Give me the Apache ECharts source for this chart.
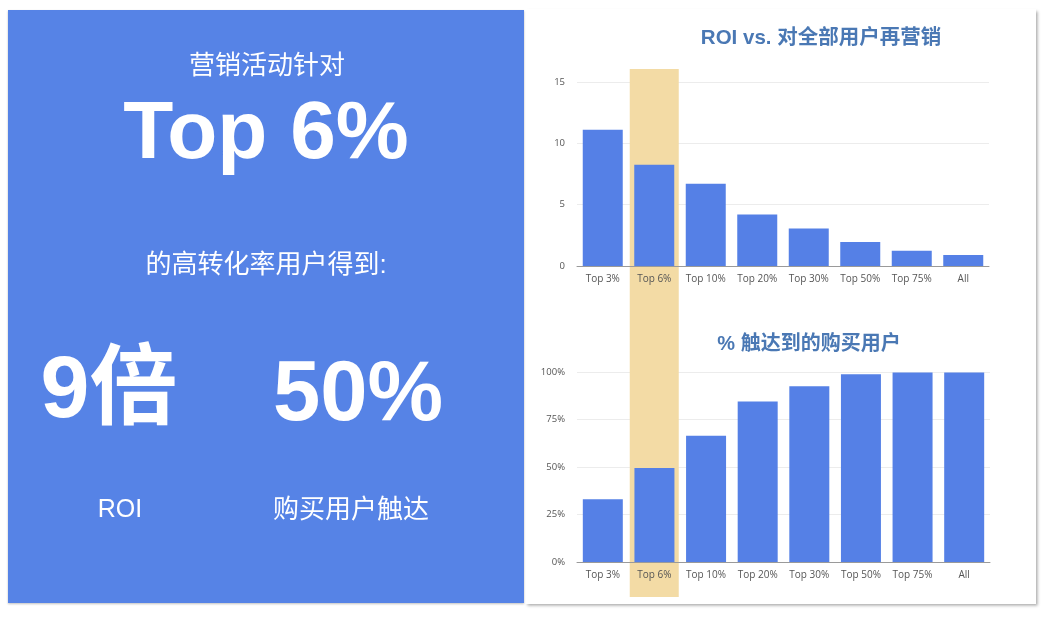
<!DOCTYPE html>
<html>
<head>
<meta charset="utf-8">
<script src="https://cdn.jsdelivr.net/npm/echarts@6/dist/echarts.min.js"></script>
<style>
html,body{margin:0;padding:0;background:#fff;}
#c{width:1052px;height:622px;}
</style>
</head>
<body>
<div id="c"></div>
<script>
// ---- data ----
const categories = ['Top 3%', 'Top 6%', 'Top 10%', 'Top 20%', 'Top 30%', 'Top 50%', 'Top 75%', 'All'];
const roiValues = [11.1, 8.25, 6.7, 4.2, 3.05, 1.95, 1.25, 0.9];
const reachValues = [33, 49.5, 66.5, 84.5, 92.5, 98.8, 99.8, 99.8];
const highlightValues = [0, 1, 0, 0, 0, 0, 0, 0];
const roiTitle = 'ROI vs. 对全部用户再营销';
const reachTitle = '% 触达到的购买用户';
const roiTicks = {min: 0, max: 15, interval: 5};
const reachTicks = {min: 0, max: 100, interval: 25};

const BAR = '#5580E6';
const PANEL = '#5683E6';
const BAND = '#F3DBA5';
const TITLE = '#4A78B4';
const CJK = '"Liberation Sans", "Noto Sans CJK SC", sans-serif';
const AXFONT = '"Open Sans", "Noto Sans CJK SC", sans-serif';

const chart = echarts.init(document.getElementById('c'), null, {renderer: 'canvas'});

function catAxis(gi, show) {
  return {
    type: 'category', gridIndex: gi, data: categories, show: show, z: 2,
    axisTick: {show: false},
    axisLine: {show: true, lineStyle: {color: '#9a9a9a', width: 1}},
    axisLabel: {color: '#555', fontSize: 10, fontFamily: AXFONT, margin: 8, interval: 0}
  };
}
function valAxis(gi, t, fmt) {
  return {
    type: 'value', gridIndex: gi, min: t.min, max: t.max, interval: t.interval,
    axisLine: {show: false}, axisTick: {show: false},
    splitLine: {lineStyle: {color: '#ececec', width: 1}},
    axisLabel: {color: '#555', fontSize: 9.5, fontFamily: AXFONT, margin: 12, formatter: fmt}
  };
}

const txt = (text, x, y, size, weight) => ({
  type: 'text', x: x, y: y, z: 5,
  style: {text: text, fill: '#fff', font: (weight || 'normal') + ' ' + size + 'px ' + CJK,
          textAlign: 'center', textVerticalAlign: 'middle'}
});

chart.setOption({
  backgroundColor: '#fff',
  animation: false,
  grid: [
    {left: 577, top: 82, width: 412, height: 184},
    {left: 577, top: 372, width: 413, height: 190},
    {left: 577, top: 69, width: 412, height: 528}
  ],
  xAxis: [
    catAxis(0, true),
    catAxis(1, true),
    catAxis(2, false)
  ],
  yAxis: [
    valAxis(0, roiTicks, '{value}'),
    valAxis(1, reachTicks, '{value}%'),
    {type: 'value', gridIndex: 2, min: 0, max: 1, show: false, splitLine: {show: false}}
  ],
  series: [
    {type: 'bar', xAxisIndex: 2, yAxisIndex: 2, data: highlightValues, barWidth: 49,
     itemStyle: {color: BAND}, z: 1, silent: true},
    {type: 'bar', xAxisIndex: 0, yAxisIndex: 0, data: roiValues, barWidth: 40,
     itemStyle: {color: BAR}, z: 3},
    {type: 'bar', xAxisIndex: 1, yAxisIndex: 1, data: reachValues, barWidth: 40,
     itemStyle: {color: BAR}, z: 3}
  ],
  graphic: [
    {type: 'rect', z: -10, shape: {x: 525, y: 9, width: 511, height: 595},
     style: {fill: '#fff', shadowBlur: 3, shadowColor: 'rgba(0,0,0,0.35)', shadowOffsetX: 1.5, shadowOffsetY: 1.5}},
    {type: 'rect', z: -9, shape: {x: 8, y: 10, width: 516, height: 593},
     style: {fill: PANEL, shadowBlur: 2, shadowColor: 'rgba(0,0,0,0.25)', shadowOffsetY: 1}},
    {type: 'text', x: 821, y: 38, z: 5,
     style: {text: roiTitle, fill: TITLE, font: 'bold 20.5px ' + CJK, textAlign: 'center', textVerticalAlign: 'middle'}},
    {type: 'text', x: 809, y: 344, z: 5,
     style: {text: reachTitle, fill: TITLE, font: 'bold 20px ' + CJK, textAlign: 'center', textVerticalAlign: 'middle'}},
    txt('营销活动针对', 267, 67, 26),
    txt('Top 6%', 266, 135, 82, 'bold'),
    txt('的高转化率用户得到:', 266, 266, 26),
    txt('9倍', 109, 393, 88, 'bold'),
    txt('50%', 358, 397, 85, 'bold'),
    txt('ROI', 120, 510, 25),
    txt('购买用户触达', 351, 511, 26)
  ]
});
</script>
</body>
</html>
